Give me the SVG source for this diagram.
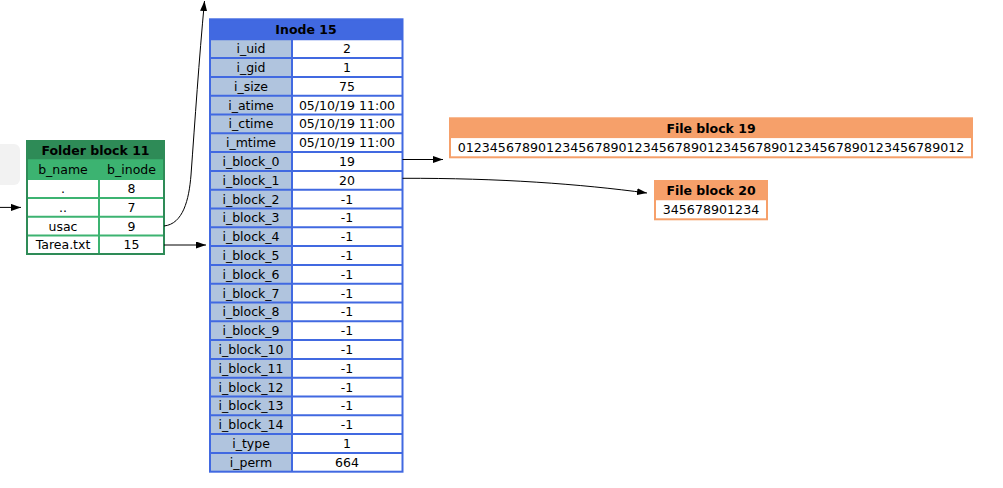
<svg xmlns="http://www.w3.org/2000/svg" width="1003" height="488" viewBox="0 0 1003 488">
<defs>
<marker id="ah" markerUnits="userSpaceOnUse" markerWidth="11" markerHeight="8" refX="10" refY="3.5" orient="auto">
<path d="M0,0 L10,3.5 L0,7 z" fill="#000"/>
</marker>
</defs>
<style>
text{font-family:"DejaVu Sans","Verdana",sans-serif;font-size:12.5px;fill:#000;text-anchor:middle}
.b{font-weight:bold}
.d{font-size:12.65px}
.g{stroke:#3cb371;stroke-width:2;fill:none}
.go{stroke:#2e8b57;stroke-width:2;fill:none}
.bl{stroke:#4169e1;stroke-width:2;fill:none}
.or{stroke:#f6a06a;stroke-width:2;fill:none}
.e{fill:none;stroke:#000;stroke-width:1;marker-end:url(#ah)}
</style>
<rect width="1003" height="488" fill="#fff"/>
<rect x="-10" y="144" width="30" height="41" rx="6" fill="#f2f2f2"/>

<g id="folder11">
<rect x="27" y="141" width="137" height="19.3" fill="#2e8b57"/>
<rect x="27" y="160.3" width="137" height="18.7" fill="#3cb371"/>
<rect x="27" y="179" width="137" height="75" fill="#fff"/>
<path class="g" d="M27,160.3H164M27,179H164M27,198H164M27,216.8H164M27,235.4H164M99,160.3V254"/>
<rect class="go" x="27" y="141" width="137" height="113"/>
<text class="b" x="95.5" y="155">Folder block 11</text>
<text x="63" y="174">b_name</text>
<text x="131.5" y="174">b_inode</text>
<text x="63" y="193">.</text><text x="131.5" y="193">8</text>
<text x="63" y="211.8">..</text><text x="131.5" y="211.8">7</text>
<text x="63" y="230.5">usac</text><text x="131.5" y="230.5">9</text>
<text x="63" y="249.1">Tarea.txt</text><text x="131.5" y="249.1">15</text>
</g>

<g id="inode15">
<rect x="210" y="19.3" width="192.5" height="20" fill="#4169e1"/>
<rect x="210" y="39.3" width="82" height="432.4" fill="#b0c4de"/>
<rect x="292" y="39.3" width="110.5" height="432.4" fill="#fff"/>
<path class="bl" d="M210,39.3H402.5M210,58.1H402.5M210,76.9H402.5M210,95.7H402.5M210,114.5H402.5M210,133.3H402.5M210,152.1H402.5M210,170.9H402.5M210,189.7H402.5M210,208.5H402.5M210,227.3H402.5M210,246.1H402.5M210,264.9H402.5M210,283.7H402.5M210,302.5H402.5M210,321.3H402.5M210,340.1H402.5M210,358.9H402.5M210,377.7H402.5M210,396.5H402.5M210,415.3H402.5M210,434.1H402.5M210,452.9H402.5M292,39.3V471.7"/>
<rect class="bl" x="210" y="19.3" width="192.5" height="452.4"/>
<text class="b" x="306" y="33.7">Inode 15</text>
<text x="251" y="53.1">i_uid</text><text x="347" y="53.1">2</text>
<text x="251" y="71.9">i_gid</text><text x="347" y="71.9">1</text>
<text x="251" y="90.7">i_size</text><text x="347" y="90.7">75</text>
<text x="251" y="109.5">i_atime</text><text x="347" y="109.5">05/10/19 11:00</text>
<text x="251" y="128.3">i_ctime</text><text x="347" y="128.3">05/10/19 11:00</text>
<text x="251" y="147.1">i_mtime</text><text x="347" y="147.1">05/10/19 11:00</text>
<text x="251" y="165.9">i_block_0</text><text x="347" y="165.9">19</text>
<text x="251" y="184.7">i_block_1</text><text x="347" y="184.7">20</text>
<text x="251" y="203.5">i_block_2</text><text x="347" y="203.5">-1</text>
<text x="251" y="222.3">i_block_3</text><text x="347" y="222.3">-1</text>
<text x="251" y="241.1">i_block_4</text><text x="347" y="241.1">-1</text>
<text x="251" y="259.9">i_block_5</text><text x="347" y="259.9">-1</text>
<text x="251" y="278.7">i_block_6</text><text x="347" y="278.7">-1</text>
<text x="251" y="297.5">i_block_7</text><text x="347" y="297.5">-1</text>
<text x="251" y="316.3">i_block_8</text><text x="347" y="316.3">-1</text>
<text x="251" y="335.1">i_block_9</text><text x="347" y="335.1">-1</text>
<text x="251" y="353.9">i_block_10</text><text x="347" y="353.9">-1</text>
<text x="251" y="372.7">i_block_11</text><text x="347" y="372.7">-1</text>
<text x="251" y="391.5">i_block_12</text><text x="347" y="391.5">-1</text>
<text x="251" y="410.3">i_block_13</text><text x="347" y="410.3">-1</text>
<text x="251" y="429.1">i_block_14</text><text x="347" y="429.1">-1</text>
<text x="251" y="447.9">i_type</text><text x="347" y="447.9">1</text>
<text x="251" y="466.7">i_perm</text><text x="347" y="466.7">664</text>
</g>

<g id="file19">
<rect x="450" y="118.3" width="522" height="20" fill="#f6a06a"/>
<rect x="450" y="138.3" width="522" height="19" fill="#fff"/>
<rect class="or" x="450" y="118.3" width="522" height="39"/>
<text class="b" x="711" y="132.7">File block 19</text>
<text class="d" x="711" y="152.2">012345678901234567890123456789012345678901234567890123456789012</text>
</g>

<g id="file20">
<rect x="655" y="181" width="112" height="19.5" fill="#f6a06a"/>
<rect x="655" y="200.5" width="112" height="18.8" fill="#fff"/>
<rect class="or" x="655" y="181" width="112" height="38.3"/>
<text class="b" x="711" y="195.1">File block 20</text>
<text class="d" x="711" y="214.3">345678901234</text>
</g>

<g id="connectors">
<path class="e" d="M0,207.4 L21,207.4"/>
<path class="e" d="M164,226 C183,224 189,200 191,175 C195,120 199,60 204.5,1"/>
<path class="e" d="M164,245 L206,245"/>
<path class="e" d="M402.5,159.5 L443,159.5"/>
<path class="e" d="M402.5,178.3 C500,178 580,184 647,193"/>
</g>
</svg>
